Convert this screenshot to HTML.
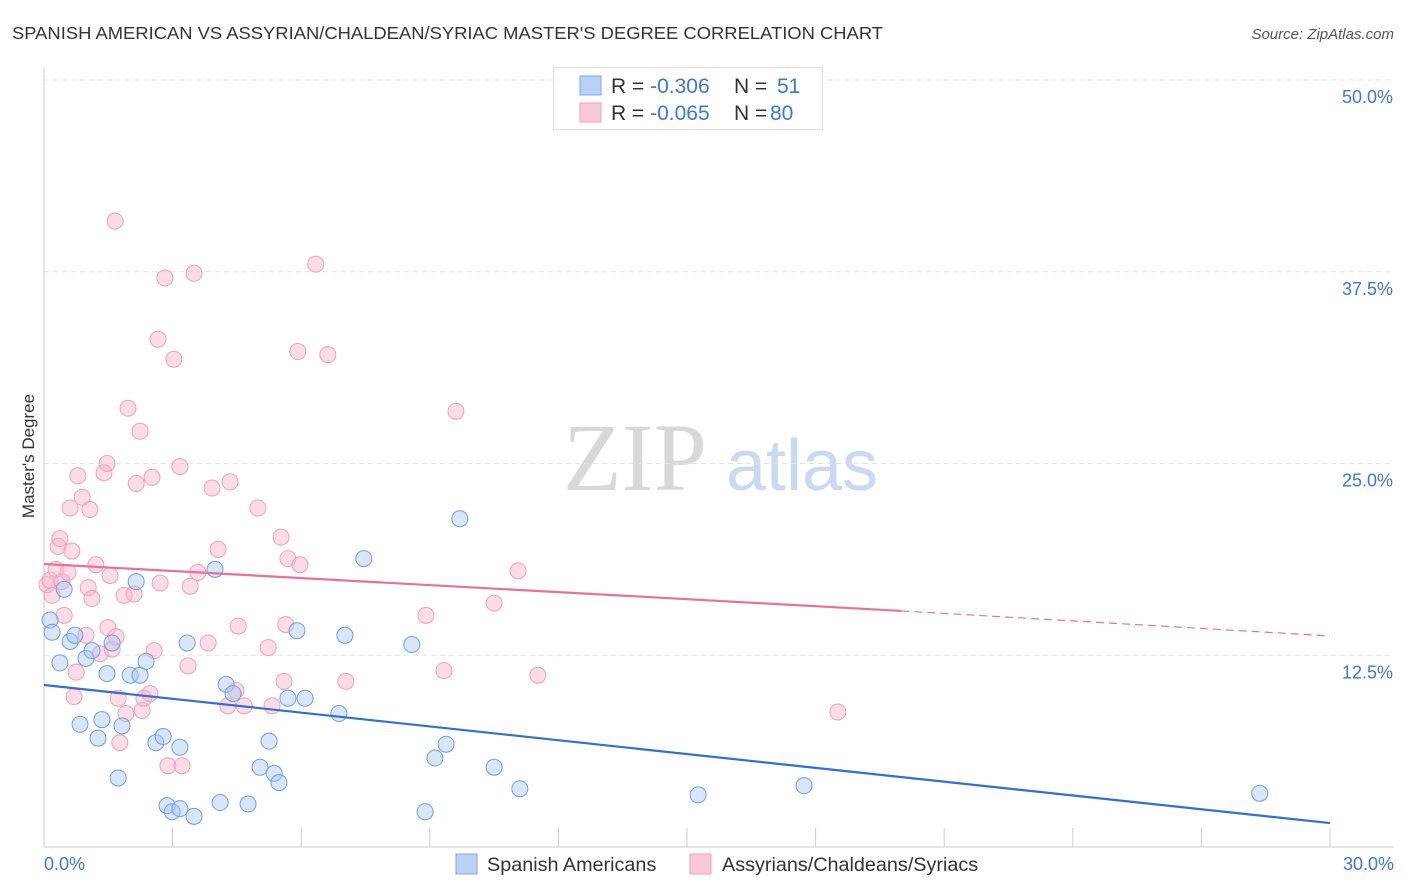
<!DOCTYPE html>
<html><head><meta charset="utf-8"><style>
body{margin:0;background:#fff;font-family:"Liberation Sans",sans-serif;}
</style></head><body>
<svg id="chart" width="1406" height="892" viewBox="0 0 1406 892" style="display:block">
<text x="12" y="39" font-size="17.5" fill="#333" textLength="871" lengthAdjust="spacingAndGlyphs">SPANISH AMERICAN VS ASSYRIAN/CHALDEAN/SYRIAC MASTER'S DEGREE CORRELATION CHART</text>
<text x="1394" y="39" font-size="15" fill="#555" font-style="italic" text-anchor="end">Source: ZipAtlas.com</text>
<g>
<text x="635" y="490" font-size="96" font-family="Liberation Serif,serif" fill="#d8d8d8" text-anchor="middle">ZIP</text>
<text x="802" y="490" font-size="72" fill="#c8daf2" text-anchor="middle">atlas</text>
</g>
<g id="grid"></g><g id="axes"></g><g id="marks"></g>
<text transform="translate(34,456) rotate(-90)" font-size="17" fill="#333" text-anchor="middle">Master's Degree</text>
<g>
<rect x="553.5" y="67.5" width="269" height="62" fill="#fff" stroke="#ddd"/>
<rect x="580" y="76" width="21" height="19" fill="#b7d2f5" stroke="#7fa9e3"/>
<rect x="580" y="103" width="21" height="19" fill="#fbc8d7" stroke="#eea0b8"/>
<text x="611" y="93" font-size="21" fill="#333">R = <tspan fill="#3a78d6">-0.306</tspan><tspan x="734">N = </tspan><tspan x="777" fill="#3a78d6">51</tspan></text>
<text x="611" y="120" font-size="21" fill="#333">R = <tspan fill="#3a78d6">-0.065</tspan><tspan x="734">N = </tspan><tspan x="770" fill="#3a78d6">80</tspan></text>
</g>
<g>
<rect x="456" y="854" width="21" height="20" fill="#b7d2f5" stroke="#7fa9e3"/>
<text x="487" y="871" font-size="19.8" fill="#333">Spanish Americans</text>
<rect x="690" y="854" width="21" height="20" fill="#fbc8d7" stroke="#eea0b8"/>
<text x="722" y="871" font-size="19.8" fill="#333">Assyrians/Chaldeans/Syriacs</text>
</g>
</svg>
<script>
const yTicks=[12.5,25,37.5,50];
const yTickLabels=["12.5%","25.0%","37.5%","50.0%"];
const xTickLabels=["0.0%","30.0%"];
const blueX=[0.14,0.19,0.37,0.47,0.61,0.72,0.84,0.98,1.12,1.26,1.35,1.47,1.59,1.73,1.82,2.01,2.15,2.24,2.38,2.61,2.78,2.87,2.99,3.17,3.17,3.34,3.5,3.99,4.11,4.25,4.41,4.76,5.04,5.25,5.37,5.48,5.69,5.9,6.09,6.88,7.02,7.46,8.58,8.89,9.12,9.38,9.7,10.5,11.1,15.26,17.73,28.36];
const blueY=[14.8,14.0,12.0,16.8,13.4,13.8,8.0,12.3,12.8,7.1,8.3,11.3,13.3,4.5,7.9,11.2,17.3,11.2,12.1,6.8,7.2,2.7,2.3,6.5,2.5,13.3,2.0,18.1,2.9,10.6,10.0,2.8,5.2,6.9,4.8,4.2,9.7,14.1,9.7,8.7,13.8,18.8,13.2,2.3,5.8,6.7,21.4,5.2,3.8,3.4,4.0,3.5];
const pinkX=[0.07,0.14,0.19,0.28,0.33,0.37,0.42,0.47,0.56,0.61,0.65,0.7,0.75,0.79,0.89,0.98,1.03,1.07,1.12,1.21,1.31,1.4,1.47,1.49,1.54,1.59,1.66,1.68,1.73,1.77,1.87,1.91,1.96,2.1,2.15,2.24,2.29,2.33,2.47,2.52,2.57,2.66,2.71,2.82,2.89,3.03,3.17,3.22,3.36,3.41,3.5,3.59,3.83,3.92,4.06,4.29,4.34,4.48,4.53,4.67,4.99,5.23,5.32,5.53,5.6,5.64,5.69,5.92,5.97,6.34,6.62,7.04,8.91,9.33,9.61,10.5,11.06,11.52,18.52];
const pinkY=[17.1,17.4,16.4,18.1,19.6,20.1,17.3,15.1,17.9,22.1,19.3,9.8,11.4,24.2,22.8,13.8,16.9,22.0,16.2,18.4,12.6,24.4,25.0,14.3,17.7,12.9,40.8,13.7,9.7,6.8,16.4,8.7,28.6,16.5,23.7,27.1,8.9,9.7,10.0,24.1,12.8,33.1,17.2,37.1,5.3,31.8,24.8,5.3,11.8,17.0,37.4,17.9,13.3,23.4,19.4,9.2,23.8,10.2,14.4,9.2,22.1,13.0,9.2,20.2,10.8,14.5,18.8,32.3,18.4,38.0,32.1,10.8,15.1,11.5,28.4,15.9,18.0,11.2,8.8];
const blueTrend=[10.56,1.56];
const pinkTrend=[18.45,15.39,13.76];
const X0=44,XW=1286,Y0=847,YH=767;
const sx=v=>X0+v/30*XW, sy=v=>Y0-v/50*YH;
const NS="http://www.w3.org/2000/svg";
function mk(tag,attrs,parent){const e=document.createElementNS(NS,tag);for(const k in attrs)e.setAttribute(k,attrs[k]);document.getElementById(parent).appendChild(e);return e;}
yTicks.forEach((t,i)=>{
 const g=mk('line',{x1:44,x2:1394,y1:sy(t),y2:sy(t),stroke:'#e2e2e2','stroke-dasharray':'5,4'},'grid');
 
 
 const l=mk('text',{x:1393,y:sy(t)+23,'font-size':18,fill:'#3a78d6','text-anchor':'end'},'axes');
 l.textContent=yTickLabels[i];
 
 
});
const ax=mk('line',{x1:44,x2:44,y1:68,y2:847,stroke:'#ccc'},'axes');


const bx=mk('line',{x1:44,x2:1394,y1:847,y2:847,stroke:'#ccc'},'axes');


for(let i=1;i<=10;i++){const t=mk('line',{x1:sx(i*3),x2:sx(i*3),y1:828,y2:847,stroke:'#ccc'},'axes');
 
 }
[[0,'start',44],[30,'end',1394]].forEach((d,i)=>{const l=mk('text',{x:d[2],y:870,'font-size':18,fill:'#3a78d6','text-anchor':d[1]},'axes');l.textContent=xTickLabels[i];
 
 });
pinkX.forEach((x,i)=>{const c=mk('circle',{cx:sx(x),cy:sy(pinkY[i]),r:8,fill:'rgba(248,180,202,0.45)',stroke:'#eda0b9','stroke-width':1},'marks');
 
 });
blueX.forEach((x,i)=>{const c=mk('circle',{cx:sx(x),cy:sy(blueY[i]),r:8,fill:'rgba(168,200,240,0.45)',stroke:'#6f9fe0','stroke-width':1},'marks');
 
 });
const bl=mk('line',{x1:sx(0),y1:sy(blueTrend[0]),x2:sx(30),y2:sy(blueTrend[1]),stroke:'#2f6fd6','stroke-width':2.2},'marks');


const pl=mk('line',{x1:sx(0),y1:sy(pinkTrend[0]),x2:sx(20),y2:sy(pinkTrend[1]),stroke:'#e8709a','stroke-width':2.2},'marks');


const pd=mk('line',{x1:sx(20),y1:sy(pinkTrend[1]),x2:sx(30),y2:sy(pinkTrend[2]),stroke:'#e8709a','stroke-width':1.2,'stroke-dasharray':'8,5'},'marks');


</script>
</body></html>
